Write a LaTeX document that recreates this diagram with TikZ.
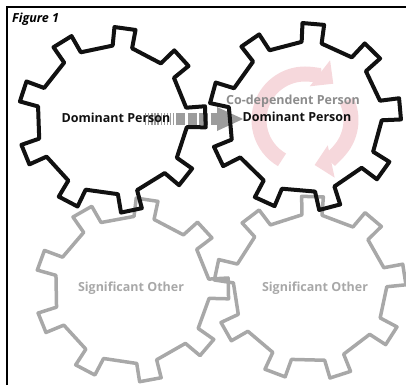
\documentclass[tikz,border=0pt]{standalone}
\usepackage{fontspec}
\setsansfont{Open Sans}
\usepackage{xcolor}
\definecolor{ink}{HTML}{111111}
\definecolor{fade}{HTML}{A8A8A8}
\definecolor{mid}{HTML}{8C8C8C}
\definecolor{push}{HTML}{9C9C9C}
\definecolor{loop}{HTML}{F6D8DC}
\usetikzlibrary{arrows.meta, positioning}

% gear outline: centre, x radius, y radius, phase of the teeth
\newcommand{\cog}[5][]{%
  \draw[#1, shift={(#2)}, xscale=#3, yscale=#4]
    (#5-7.5:0.8) \foreach \k in {0,40,...,320} {
      -- (#5+\k-7.5:0.8) -- (#5+\k-6.5:1) -- (#5+\k+6.5:1) -- (#5+\k+7.5:0.8)
      -- (#5+\k+32.5:0.8)} -- cycle;}

\begin{document}
\begin{tikzpicture}[
  x=1pt, y=-1pt,
  font=\sffamily\bfseries,
  every node/.style={align=center, inner sep=0pt},
  label/.style={font=\fontsize{12.5}{14}\sffamily\bfseries},
  gearblack/.style={draw=ink, line width=4pt, line join=round},
  geargray/.style={draw=fade, line width=3.5pt, line join=round},
  turn/.style={draw=loop, line width=15pt, -{Triangle[width=32pt, length=17pt]}},
]
  \useasboundingbox (0,0) rectangle (406,385);
  \draw[line width=1.4pt] (7,385) |- (406,7);
  \node[anchor=west, font=\fontsize{12.5}{14}\sffamily\bfseries\itshape] (fig) at (12,19) {Figure 1};

  % cycle arrows in the right gear
  \coordinate (hub) at (305,120);
  \draw[turn] (hub) ++(-240:46) arc[start angle=-240, end angle=-52, radius=46];
  \draw[turn] (hub) ++(-25:46) arc[start angle=-25, end angle=78, radius=46];

  % push arrow
  \coordinate (tail) at (145,119);
  \coordinate (mid1) at (174,119);
  \coordinate (mid2) at (217,119);
  \coordinate (tip) at (243,119);
  \draw[push, line width=12pt, dash pattern=on 1.3pt off 1.8pt] (tail) -- (mid1);
  \draw[push, line width=12pt, dash pattern=on 9pt off 2.5pt] ([xshift=2pt]mid1) -- (mid2);
  \fill[push] ([yshift=-12pt]mid2) -- (tip) -- ([yshift=12pt]mid2) -- cycle;

  % gears
  \cog[geargray]{132,290}{97}{92}{39}
  \cog[geargray]{310,288}{96}{92}{31.5}
  \cog[gearblack]{112,120}{94}{93}{38}
  \cog[gearblack]{305,117}{96}{94}{35}

  % labels
  \node[label, text=ink] (dom) at (116,118) {Dominant Person};
  \node[label, text=mid] (codep) at (293,101) {Co-dependent Person};
  \node[label, text=ink, below=4pt of codep, xshift=4pt] (dom2) {Dominant Person};
  \node[label, text=fade] (sig1) at (131,288) {Significant Other};
  \node[label, text=fade] (sig2) at (315,288) {Significant Other};
\end{tikzpicture}
\end{document}
